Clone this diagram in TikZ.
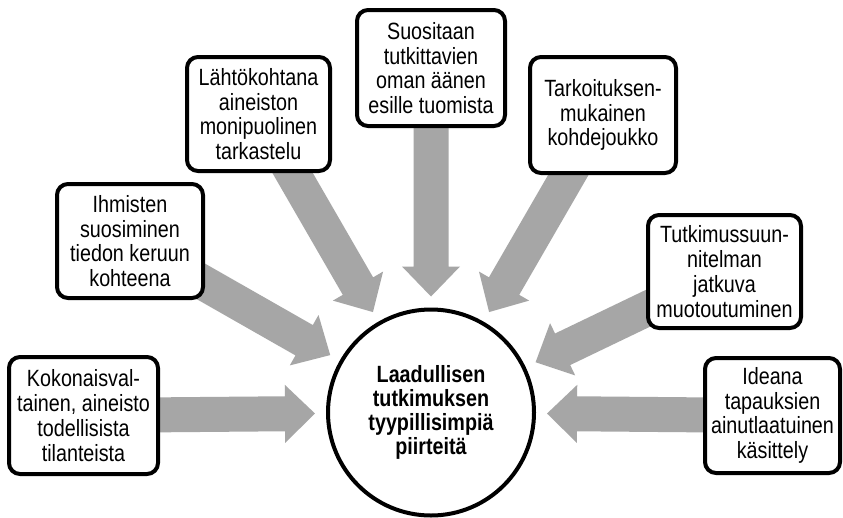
\documentclass[tikz,border=0pt]{standalone}
\usepackage{fontspec}
\setmainfont[FakeStretch=0.84]{Liberation Sans}
\usetikzlibrary{calc,backgrounds}

\definecolor{arrowfill}{HTML}{A6A6A6}

% Broad block arrow from the centre of #1 towards the centre of #2,
% stopping 116pt short of the target centre.
\newcommand\fatarrow[2]{%
  \fill[arrowfill] let \p1=(#1.center), \p2=(#2.center),
      \n1={atan2(\y2-\y1,\x2-\x1)},
      \n2={veclen(\x2-\x1,\y2-\y1)-116pt} in
    ($(\p1)+(\n1+90:17.5pt)$)
    -- ($(\p1)+(\n1:{\n2-30pt})+(\n1+90:17.5pt)$)
    -- ($(\p1)+(\n1:{\n2-30pt})+(\n1+90:29pt)$)
    -- ($(\p1)+(\n1:{\n2+0pt})$)
    -- ($(\p1)+(\n1:{\n2-30pt})+(\n1-90:29pt)$)
    -- ($(\p1)+(\n1:{\n2-30pt})+(\n1-90:17.5pt)$)
    -- ($(\p1)+(\n1-90:17.5pt)$) -- cycle;%
}

\tikzset{
  txt/.style={font=\fontsize{23.5}{24.8}\selectfont, align=center},
  featurebox/.style={txt, draw=black, fill=white, line width=4pt,
    rounded corners=11pt, inner sep=0pt},
  hubcircle/.style={txt, circle, draw=black, fill=white, line width=4pt,
    minimum size=206pt, inner sep=0pt, font=\fontsize{23.5}{24}\selectfont\bfseries},
}

\begin{document}
\begin{tikzpicture}[x=1pt,y=-1pt]
  \useasboundingbox (0,0) rectangle (843,517);

  % centre
  \node[hubcircle] (hub) at (431,412.5)
    {Laadullisen\\tutkimuksen\\tyypillisimpiä\\piirteitä};

  % surrounding features
  \node[featurebox, minimum width=149pt, minimum height=117pt] (koko) at (83.5,415.5)
    {Kokonaisval-\\tainen, aineisto\\todellisista\\tilanteista};
  \node[featurebox, minimum width=146pt, minimum height=114pt] (ihm) at (130,241)
    {Ihmisten\\suosiminen\\tiedon keruun\\kohteena};
  \node[featurebox, minimum width=143pt, minimum height=114pt] (lahto) at (258.5,114)
    {Lähtökohtana\\aineiston\\monipuolinen\\tarkastelu};
  \node[featurebox, minimum width=148pt, minimum height=116pt] (suos) at (431,68)
    {Suositaan\\tutkittavien\\oman äänen\\esille tuomista};
  \node[featurebox, minimum width=146pt, minimum height=116pt] (tark) at (603,115)
    {Tarkoituksen-\\mukainen\\kohdejoukko};
  \node[featurebox, minimum width=153pt, minimum height=113pt] (tutk) at (724.5,271.5)
    {Tutkimussuun-\\nitelman\\jatkuva\\muotoutuminen};
  \node[featurebox, minimum width=135pt, minimum height=115pt] (idea) at (772.5,415.5)
    {Ideana\\tapauksien\\ainutlaatuinen\\käsittely};

  % white page and block arrows behind the boxes
  \begin{pgfonlayer}{background}
    \fill[white] (0,0) rectangle (843,517);
    \foreach \src in {koko,ihm,lahto,suos,tark,tutk,idea}{
      \fatarrow{\src}{hub}
    }
  \end{pgfonlayer}
\end{tikzpicture}
\end{document}
